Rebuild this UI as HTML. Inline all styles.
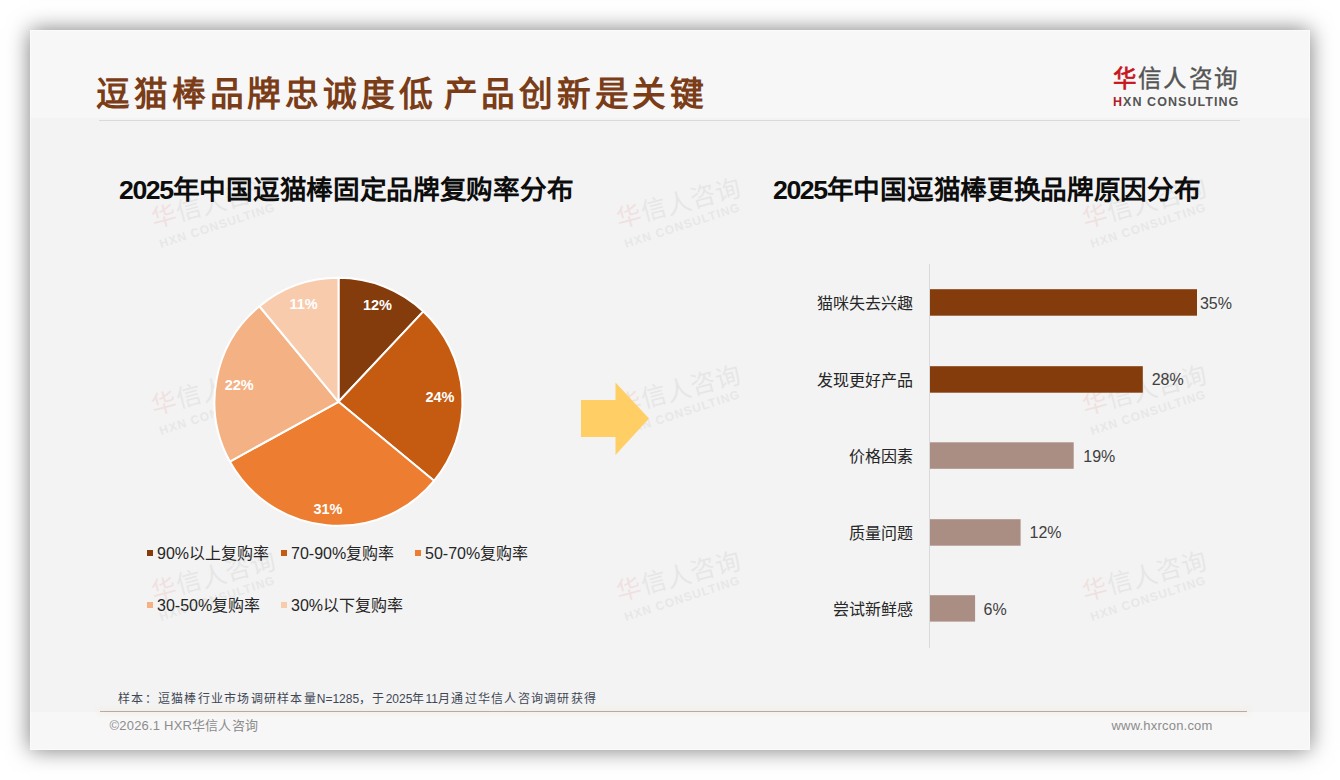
<!DOCTYPE html>
<html lang="zh-CN">
<head>
<meta charset="utf-8">
<title>逗猫棒品牌忠诚度低 产品创新是关键</title>
<style>
html,body{margin:0;padding:0;width:1340px;height:780px;overflow:hidden;background:#fff}
body{position:relative;font-family:"Liberation Sans",sans-serif}
.abs{position:absolute;white-space:nowrap}
.slide{position:absolute;left:30px;top:30px;width:1280px;height:720px;background:#f3f3f3;box-shadow:0 0 21px rgba(0,0,0,.52)}
.sedge{position:absolute;left:30px;top:30px;width:1278px;height:718px;border:1px solid rgba(255,255,255,.55);z-index:5}
.hdr{position:absolute;left:30px;top:30px;width:1280px;height:88px;background:#f7f7f7}
.ftr{position:absolute;left:30px;top:712px;width:1280px;height:38px;background:#f7f7f7}
.title{top:77px;font-size:33.7px;line-height:34px;font-weight:bold;color:#7a3d17;letter-spacing:3.8px}
.hline{position:absolute;left:99px;top:120px;width:1141px;height:1px;background:#d9d9d9}
.fline{position:absolute;left:100px;top:711px;width:1147px;height:1px;background:#b5aca5;box-shadow:0 0 4px 2px rgba(245,225,205,.35)}
.ctitle{font-size:26.67px;line-height:34px;font-weight:bold;color:#0d0d0d;letter-spacing:-0.3px}
.dg{letter-spacing:-1.4px}
.leg{font-size:16px;line-height:20px;color:#262626}
.mk{position:absolute;width:6px;height:6px}
.blab{font-size:16px;line-height:20px;color:#262626;text-align:right;width:120px}
.bval{font-size:16px;line-height:20px;color:#404040}
.note{left:118px;top:691px;font-size:12px;line-height:16px;color:#3f4754;letter-spacing:1.25px}
.l0{letter-spacing:0}
.copy{left:109.5px;top:718px;font-size:13px;line-height:16px;color:#8c8c8c;letter-spacing:0.2px}
.url{left:1111.5px;top:717.5px;font-size:13px;line-height:16px;color:#8c8c8c;letter-spacing:0.2px}
.wm{position:absolute;white-space:nowrap;width:130px;height:60px;transform:rotate(-15deg);opacity:.07}
.wm .c{position:absolute;left:0;top:0;font-size:25px;line-height:28px;color:#4a4a4a;letter-spacing:0.5px}
.wm .c b{color:#c00;font-weight:normal}
.wm .e{position:absolute;left:1px;top:33px;font-size:12px;line-height:14px;color:#555;font-weight:bold;letter-spacing:1px;transform:rotate(-3deg);transform-origin:0 50%}
</style>
</head>
<body>
<div class="slide"></div>
<div class="hdr"></div>
<div class="ftr"></div>
<div class="sedge"></div>

<!-- watermarks -->
<div class="wm" style="left:154px;top:188px"><div class="c"><b>华</b>信人咨询</div><div class="e">HXN CONSULTING</div></div>
<div class="wm" style="left:619px;top:188px"><div class="c"><b>华</b>信人咨询</div><div class="e">HXN CONSULTING</div></div>
<div class="wm" style="left:1085px;top:188px"><div class="c"><b>华</b>信人咨询</div><div class="e">HXN CONSULTING</div></div>
<div class="wm" style="left:154px;top:375px"><div class="c"><b>华</b>信人咨询</div><div class="e">HXN CONSULTING</div></div>
<div class="wm" style="left:619px;top:375px"><div class="c"><b>华</b>信人咨询</div><div class="e">HXN CONSULTING</div></div>
<div class="wm" style="left:1085px;top:375px"><div class="c"><b>华</b>信人咨询</div><div class="e">HXN CONSULTING</div></div>
<div class="wm" style="left:154px;top:561px"><div class="c"><b>华</b>信人咨询</div><div class="e">HXN CONSULTING</div></div>
<div class="wm" style="left:619px;top:561px"><div class="c"><b>华</b>信人咨询</div><div class="e">HXN CONSULTING</div></div>
<div class="wm" style="left:1085px;top:561px"><div class="c"><b>华</b>信人咨询</div><div class="e">HXN CONSULTING</div></div>

<!-- header -->
<div class="abs title" style="left:96.3px">逗猫棒品牌忠诚度低</div>
<div class="abs title" style="left:443.5px">产品创新是关键</div>
<div class="hline"></div>

<!-- logo -->
<div class="abs" style="left:1113px;top:67px;font-size:23.5px;line-height:24px;color:#555;letter-spacing:2.2px;-webkit-text-stroke:0.4px #555"><span style="color:#c8161d;-webkit-text-stroke:0.7px #c8161d">华</span>信人咨询</div>
<div class="abs" style="left:1113px;top:94px;font-size:12.5px;line-height:16px;color:#555;font-weight:bold;letter-spacing:1.05px"><span style="color:#b0202a">H</span>XN CONSULTING</div>

<!-- left chart -->
<div class="abs ctitle" style="left:119px;top:173px"><span class="dg">2025</span>年中国逗猫棒固定品牌复购率分布</div>
<svg class="abs" style="left:0;top:0" width="1340" height="780" viewBox="0 0 1340 780">
<g stroke="#fff" stroke-width="2" stroke-linejoin="round">
<path d="M338.5,401.8 L338.50,277.80 A124,124 0 0 1 423.38,311.41 Z" fill="#843C0C"/>
<path d="M338.5,401.8 L423.38,311.41 A124,124 0 0 1 434.04,480.84 Z" fill="#C55A11"/>
<path d="M338.5,401.8 L434.04,480.84 A124,124 0 0 1 229.84,461.54 Z" fill="#ED7D31"/>
<path d="M338.5,401.8 L229.84,461.54 A124,124 0 0 1 259.46,306.26 Z" fill="#F4B183"/>
<path d="M338.5,401.8 L259.46,306.26 A124,124 0 0 1 338.50,277.80 Z" fill="#F8CBAD"/>
</g>
<g font-family="Liberation Sans, sans-serif" font-weight="bold" font-size="14.5" fill="#fff" text-anchor="middle">
<text x="377.4" y="309.8">12%</text>
<text x="440" y="402.2">24%</text>
<text x="328" y="514">31%</text>
<text x="239.2" y="390">22%</text>
<text x="303.5" y="309.2">11%</text>
</g>
<polygon points="581,400 615.5,400 615.5,382.5 649,418.5 615.5,455 615.5,437 581,437" fill="#ffcf66"/>
<line x1="929.5" y1="264" x2="929.5" y2="648" stroke="#d9d9d9" stroke-width="1"/>
<rect x="930" y="289.2" width="267" height="26.5" fill="#843C0C"/>
<rect x="930" y="366.2" width="212.8" height="26.5" fill="#843C0C"/>
<rect x="930" y="442.3" width="143.7" height="26.5" fill="#AB8E83"/>
<rect x="930" y="519.2" width="90.6" height="26.5" fill="#AB8E83"/>
<rect x="930" y="595.2" width="45.1" height="26.4" fill="#AB8E83"/>
</svg>

<!-- legend -->
<div class="mk" style="left:147px;top:549.5px;background:#843C0C"></div>
<div class="abs leg" style="left:157px;top:544px">90%以上复购率</div>
<div class="mk" style="left:281px;top:549.5px;background:#C55A11"></div>
<div class="abs leg" style="left:291px;top:544px">70-90%复购率</div>
<div class="mk" style="left:415px;top:549.5px;background:#ED7D31"></div>
<div class="abs leg" style="left:425px;top:544px">50-70%复购率</div>
<div class="mk" style="left:147px;top:602px;background:#F4B183"></div>
<div class="abs leg" style="left:157px;top:596px">30-50%复购率</div>
<div class="mk" style="left:281px;top:602px;background:#F8CBAD"></div>
<div class="abs leg" style="left:291px;top:596px">30%以下复购率</div>

<!-- right chart -->
<div class="abs ctitle" style="left:773px;top:173px"><span class="dg">2025</span>年中国逗猫棒更换品牌原因分布</div>
<div class="abs blab" style="left:793px;top:293.5px">猫咪失去兴趣</div>
<div class="abs blab" style="left:793px;top:370.5px">发现更好产品</div>
<div class="abs blab" style="left:793px;top:446.5px">价格因素</div>
<div class="abs blab" style="left:793px;top:523.5px">质量问题</div>
<div class="abs blab" style="left:793px;top:599.5px">尝试新鲜感</div>
<div class="abs bval" style="left:1199.9px;top:293.8px">35%</div>
<div class="abs bval" style="left:1151.7px;top:369.8px">28%</div>
<div class="abs bval" style="left:1083.3px;top:447px">19%</div>
<div class="abs bval" style="left:1029.5px;top:523px">12%</div>
<div class="abs bval" style="left:983.6px;top:600px">6%</div>

<!-- footer -->
<div class="abs note">样本：逗猫棒行业市场调研样本量<span class="l0">N=1285</span>，于<span class="l0">2025</span>年<span class="l0">11</span>月通过华信人咨询调研获得</div>
<div class="fline"></div>
<div class="abs copy">©2026.1 HXR华信人咨询</div>
<div class="abs url">www.hxrcon.com</div>
</body>
</html>
